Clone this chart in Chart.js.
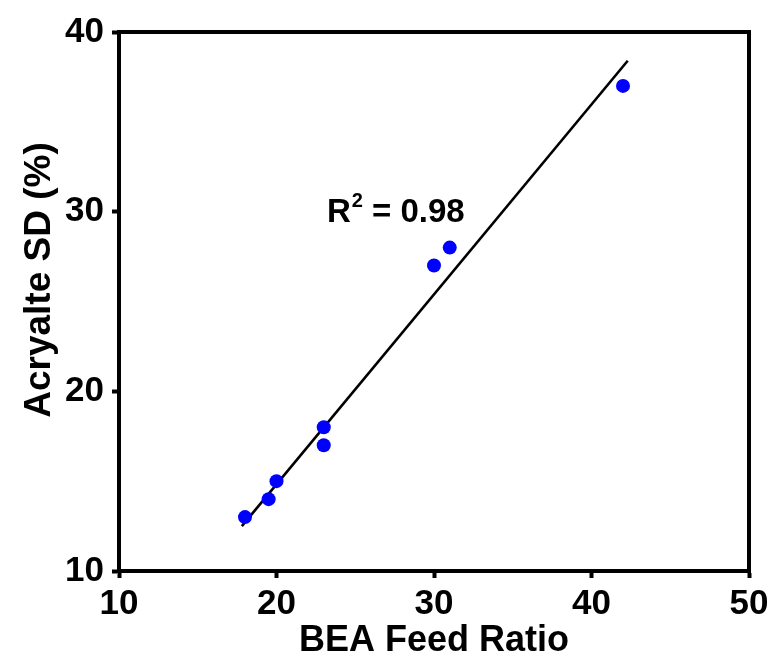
<!DOCTYPE html>
<html>
<head>
<meta charset="utf-8">
<script src="https://cdn.jsdelivr.net/npm/chart.js@4.4.1/dist/chart.umd.min.js"></script>
<style>
  html,body{margin:0;padding:0;background:#fff;}
  #wrap{width:776px;height:668px;}
</style>
</head>
<body>
<div id="wrap"><canvas id="chart" width="776" height="668"></canvas></div>
<script>
// Data
const feedRatio  = [18, 19.5, 20, 23, 23, 30, 31, 42];
const acrylateSD = [13, 14, 15, 18, 17, 27, 28, 37];
const fitX = [17.8, 42.3];
const fitY = [12.5, 38.4];
const xTicks = [10, 20, 30, 40, 50];
const yTicks = [10, 20, 30, 40];
const xTitle = 'BEA Feed Ratio';
const yTitle = 'Acryalte SD (%)';
const r2Value = '0.98';

const FONT = "'Liberation Sans', Arial, sans-serif";

// frame, y title and R² annotation
const extras = {
  id: 'extras',
  afterDraw(chart){
    const {ctx, chartArea:a, scales:{x, y}} = chart;
    ctx.save();
    ctx.strokeStyle = '#000'; ctx.lineWidth = 4;
    ctx.strokeRect(a.left, a.top, a.right - a.left, a.bottom - a.top);

    ctx.fillStyle = '#000';
    // y title
    ctx.save();
    ctx.translate(50, 280);
    ctx.rotate(-Math.PI/2);
    ctx.font = 'bold 37px ' + FONT;
    ctx.textAlign = 'center'; ctx.textBaseline = 'alphabetic';
    ctx.fillText(yTitle, 0, 0);
    ctx.restore();

    // R² label
    const px = x.getPixelForValue(23.2), py = y.getPixelForValue(29.45);
    ctx.textAlign = 'left'; ctx.textBaseline = 'alphabetic';
    ctx.font = 'bold 33px ' + FONT;
    ctx.fillText('R', px, py);
    let w = ctx.measureText('R').width;
    ctx.font = 'bold 20px ' + FONT;
    ctx.fillText('2', px + w + 1, py - 15);
    w += ctx.measureText('2').width + 1;
    ctx.font = 'bold 33px ' + FONT;
    ctx.fillText(' = ' + r2Value, px + w, py);
    ctx.restore();
  }
};

const tickFont = {family: FONT, size: 35, weight: 'bold'};

new Chart(document.getElementById('chart'), {
  type: 'scatter',
  data: {
    datasets: [
      {
        data: feedRatio.map((v, i) => ({x: v, y: acrylateSD[i]})),
        backgroundColor: '#0000ff', borderWidth: 0, pointRadius: 7, order: 1
      },
      {
        data: fitX.map((v, i) => ({x: v, y: fitY[i]})),
        showLine: true, borderColor: '#000', borderWidth: 2.6, pointRadius: 0, order: 2
      }
    ]
  },
  options: {
    responsive: false, animation: false, devicePixelRatio: 1,
    layout: {padding: {top: 32, right: 27, left: 0, bottom: 0}},
    plugins: {legend: {display: false}, tooltip: {enabled: false}},
    scales: {
      x: {
        type: 'linear', min: 10, max: 50,
        afterBuildTicks: s => { s.ticks = xTicks.map(v => ({value: v})); },
        afterFit: s => { s.height = 97; },
        ticks: {font: tickFont, color: '#000', padding: 5},
        grid: {drawOnChartArea: false, drawTicks: true, tickLength: 7, tickWidth: 4, tickColor: '#000'},
        border: {display: true, color: '#000', width: 4},
        title: {display: true, text: xTitle, color: '#000', font: {family: FONT, size: 36, weight: 'bold'}, padding: {top: 0, bottom: 5}}
      },
      y: {
        type: 'linear', min: 10, max: 40,
        afterBuildTicks: s => { s.ticks = yTicks.map(v => ({value: v})); },
        afterFit: s => { s.width = 119; },
        ticks: {font: tickFont, color: '#000', padding: 8},
        grid: {drawOnChartArea: false, drawTicks: true, tickLength: 7, tickWidth: 4, tickColor: '#000'},
        border: {display: true, color: '#000', width: 4}
      }
    }
  },
  plugins: [extras]
});
</script>
</body>
</html>
